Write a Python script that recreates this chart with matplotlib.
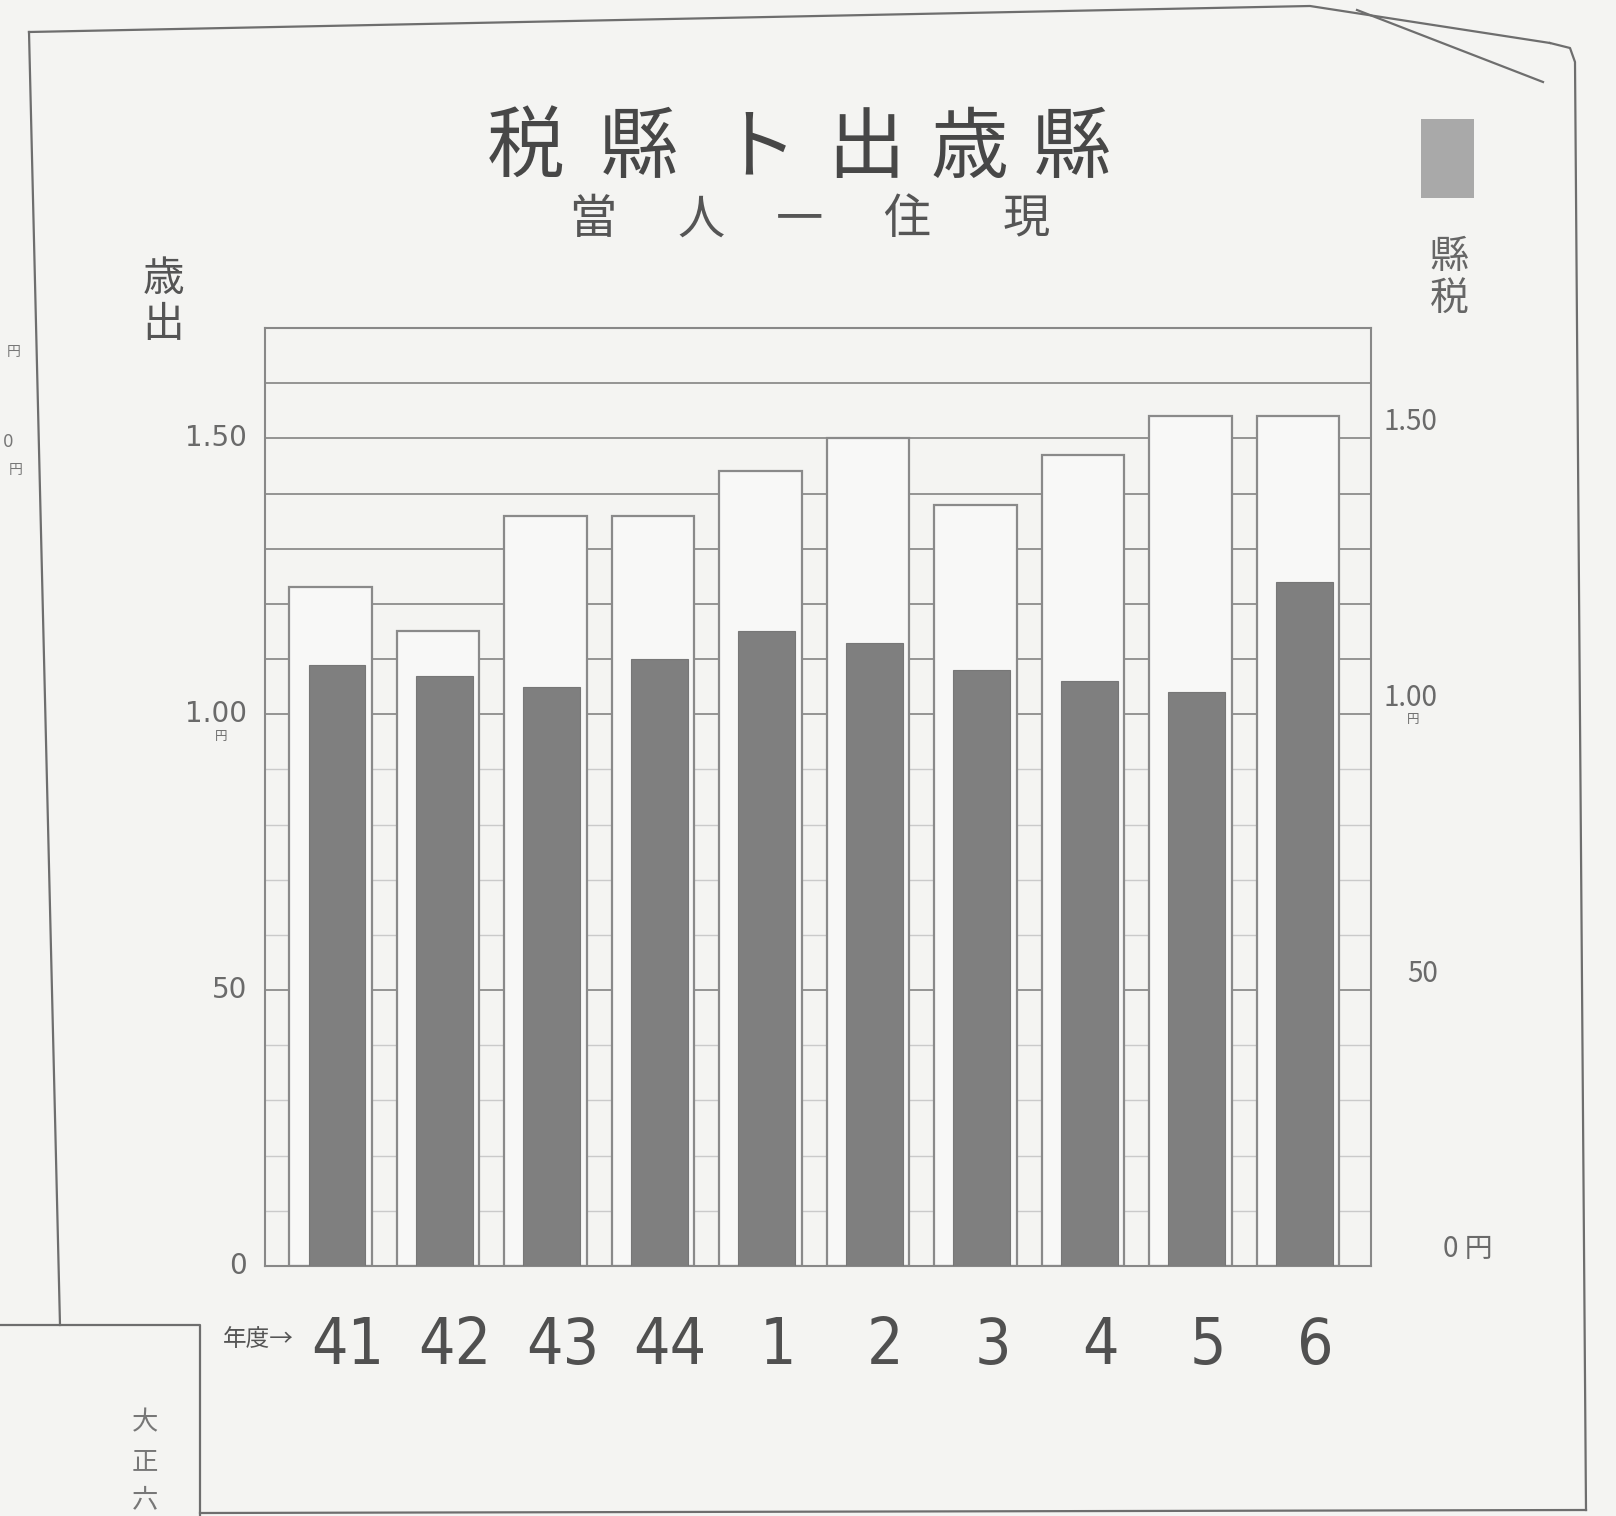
import numpy as np
import matplotlib.pyplot as plt

# 縣歳出ト縣税 / 現住一人當 (銭)
years = ['41', '42', '43', '44', '1', '2', '3', '4', '5', '6']
expenditure = [123, 115, 136, 136, 144, 150, 138, 147, 154, 154]
tax = [109, 107, 105, 110, 115, 113, 108, 106, 104, 124]

left_ticks = [0, 50, 100, 150]
left_labels = ['0', '50', '1.00', '1.50']
right_labels = ['0 円', '50', '1.00', '1.50']

W, H = 1616, 1516
paper = '#f4f4f2'
ink = '#6e6e6e'
jp = ['Noto Sans CJK JP', 'DejaVu Sans']

fig = plt.figure(figsize=(W / 100, H / 100), dpi=100, facecolor=paper)

# page layer in pixel coordinates
bg = fig.add_axes([0, 0, 1, 1], zorder=0)
bg.set_xlim(0, W)
bg.set_ylim(H, 0)
bg.axis('off')

frame_lines = [
    ([29, 1310, 1550], [32, 6, 43]),
    ([1357, 1543], [10, 82]),
    ([1550, 1570, 1575, 1586], [43, 48, 62, 1510]),
    ([29, 60], [32, 1325]),
    ([0, 200, 200], [1325, 1325, H]),
    ([200, 1586], [1513, 1510]),
]
for xs, ys in frame_lines:
    bg.plot(xs, ys, color=ink, lw=1.6)

title_chars = ['税', '縣', 'ト', '出', '歳', '縣']
title_x = [526, 639, 758, 866, 969, 1072]
for ch, x in zip(title_chars, title_x):
    bg.text(x, 150, ch, fontsize=56, family=jp, color='#474747',
            ha='center', va='center')

sub_chars = ['當', '人', '一', '住', '現']
sub_x = [593, 701, 799, 907, 1026]
for ch, x in zip(sub_chars, sub_x):
    bg.text(x, 220, ch, fontsize=34, family=jp, color='#555555',
            ha='center', va='center')

# axis titles
bg.text(163, 280, '歳', fontsize=30, family=jp, color='#555555', ha='center', va='center')
bg.text(163, 325, '出', fontsize=30, family=jp, color='#555555', ha='center', va='center')
bg.add_patch(plt.Rectangle((1421, 119), 53, 79, color='#a9a9a9', lw=0))
bg.text(1449, 257, '縣', fontsize=28, family=jp, color='#666666', ha='center', va='center')
bg.text(1449, 299, '税', fontsize=28, family=jp, color='#666666', ha='center', va='center')

# stray marks of the neighbouring page
bg.text(14, 352, '円', fontsize=10, family=jp, color='#777777', ha='center', va='center')
bg.text(8, 442, '0', fontsize=12, color='#777777', ha='center', va='center')
bg.text(16, 470, '円', fontsize=10, family=jp, color='#777777', ha='center', va='center')

for ch, y in zip(['大', '正', '六'], [1423, 1462, 1500]):
    bg.text(145, y, ch, fontsize=19, family=jp, color='#777777', ha='center', va='center')

bg.text(258, 1340, '年度→', fontsize=17, family=jp, color='#555555', ha='center', va='center')

# chart
ax = fig.add_axes([265 / W, (H - 1266) / H, 1106 / W, 938 / H], zorder=1)
ax.set_facecolor('none')
x = np.arange(len(years))
ax.set_xlim(-0.61, 9.68)
ax.set_ylim(0, 170)

for g in range(10, 171, 10):
    strong = g % 50 == 0 or g >= 110
    ax.axhline(g, color='#8c8c8c' if strong else '#cacaca', lw=1.3 if strong else 1.0, zorder=1)

ax.bar(x, expenditure, width=0.77, color='#f8f8f7', edgecolor='#8a8a8a', linewidth=1.6, zorder=2)
ax.bar(x + 0.06, tax, width=0.53, color='#7f7f7f', edgecolor='#777777', linewidth=0.8, zorder=3)

for side in ['top', 'bottom', 'left', 'right']:
    ax.spines[side].set_color('#888888')
    ax.spines[side].set_linewidth(1.5)

ax.set_xticks([])
ax.set_yticks([])

ytr = ax.get_yaxis_transform()
for v, lab in zip(left_ticks, left_labels):
    ax.text(-0.016, v, lab, transform=ytr, fontsize=20, color='#6a6a6a', ha='right', va='center')
right_x = [1.065, 1.033, 1.011, 1.011]
for v, lab, rx in zip(left_ticks, right_labels, right_x):
    ax.text(rx, v + 3, lab, transform=ytr, fontsize=20, family=jp, color='#6a6a6a',
            ha='left', va='center')
ax.text(-0.04, 96, '円', transform=ytr, fontsize=9, family=jp, color='#6a6a6a', ha='center', va='center')
ax.text(1.038, 99, '円', transform=ytr, fontsize=9, family=jp, color='#6a6a6a', ha='center', va='center')

xtr = ax.get_xaxis_transform()
for xi, lab in zip(x, years):
    ax.text(xi + 0.16, -0.085, lab, transform=xtr, fontsize=46, family='DejaVu Sans',
            fontstretch='condensed', color='#505050', ha='center', va='center')

fig.savefig('out.png', dpi=100, facecolor=paper)
